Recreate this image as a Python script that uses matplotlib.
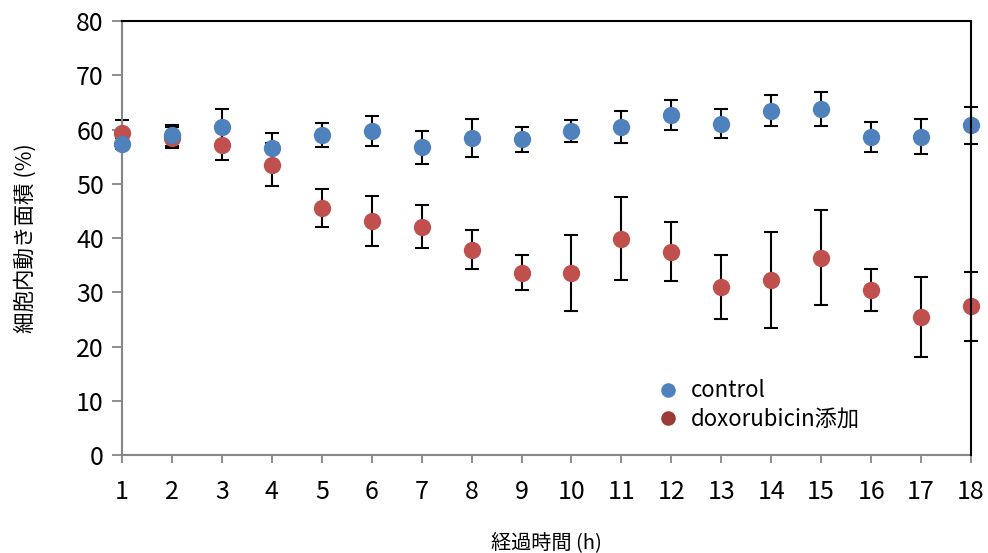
import numpy as np
import matplotlib
matplotlib.use("Agg")
import matplotlib.pyplot as plt
from matplotlib.lines import Line2D

plt.rcParams['font.family'] = ['Noto Sans CJK JP', 'DejaVu Sans']

# data
hours = np.arange(1, 19)
ctrl_mean = [57.4, 58.9, 60.4, 56.6, 59.0, 59.7, 56.7, 58.5, 58.2,
             59.7, 60.5, 62.7, 61.1, 63.5, 63.8, 58.6, 58.7, 60.8]
ctrl_err = [1.0, 2.0, 3.3, 2.7, 2.2, 2.7, 3.0, 3.5, 2.3,
            2.0, 3.0, 2.8, 2.6, 2.9, 3.2, 2.8, 3.2, 3.4]
doxo_mean = [59.3, 58.5, 57.1, 53.5, 45.5, 43.2, 42.1, 37.8, 33.6,
             33.5, 39.9, 37.5, 31.0, 32.3, 36.4, 30.4, 25.5, 27.4]
doxo_err = [2.4, 2.0, 2.7, 4.0, 3.5, 4.6, 4.0, 3.6, 3.2,
            7.0, 7.7, 5.5, 5.9, 8.9, 8.8, 3.9, 7.4, 6.3]

yticks = [0, 10, 20, 30, 40, 50, 60, 70, 80]

blue = '#4F81BD'
red = '#C0504D'
gray = '#868686'

fig = plt.figure(figsize=(9.88, 5.53), dpi=100)
ax = fig.add_axes([0.1235, 0.1772, 0.8593, 0.7848])

# red first so blue sits on top where they overlap
for mean, err, col in [(doxo_mean, doxo_err, red), (ctrl_mean, ctrl_err, blue)]:
    eb = ax.errorbar(hours, mean, yerr=err, fmt='none', ecolor='black',
                     elinewidth=1.5, capsize=5, capthick=1.5, zorder=2)
    for art in eb.lines[1] + eb.lines[2]:
        art.set_clip_on(False)
    ax.plot(hours, mean, 'o', color=col, markersize=12.5, markeredgewidth=0,
            clip_on=False, zorder=3)

ax.set_xlim(1, 18)
ax.set_ylim(0, 80)
ax.set_xticks(hours)
ax.set_yticks(yticks)

for side in ['left', 'bottom']:
    ax.spines[side].set_color(gray)
    ax.spines[side].set_linewidth(1.5)
for side in ['top', 'right']:
    ax.spines[side].set_color('black')
    ax.spines[side].set_linewidth(1.5)
    ax.spines[side].set_zorder(4)

ax.tick_params(axis='y', direction='out', length=7, width=1.3, color=gray,
               labelsize=18, pad=6)
ax.tick_params(axis='x', direction='out', length=6, width=1.3, color=gray,
               labelsize=18, pad=11)

ax.set_xlabel('経過時間 (h)', fontsize=14.5, labelpad=20)
ax.set_ylabel('細胞内動き面積 (%)', fontsize=15.5, labelpad=28)

handles = [Line2D([], [], ls='none', marker='o', color=blue, markersize=10.5, markeredgewidth=0),
           Line2D([], [], ls='none', marker='o', color='#9B3B38', markersize=10.5, markeredgewidth=0)]
ax.legend(handles, ['control', 'doxorubicin添加'], loc='upper left',
          bbox_to_anchor=(0.62, 0.2), frameon=False, fontsize=16,
          handlelength=0.8, handletextpad=0.6, borderpad=0, labelspacing=0.25)

fig.savefig('out.png', dpi=100)
